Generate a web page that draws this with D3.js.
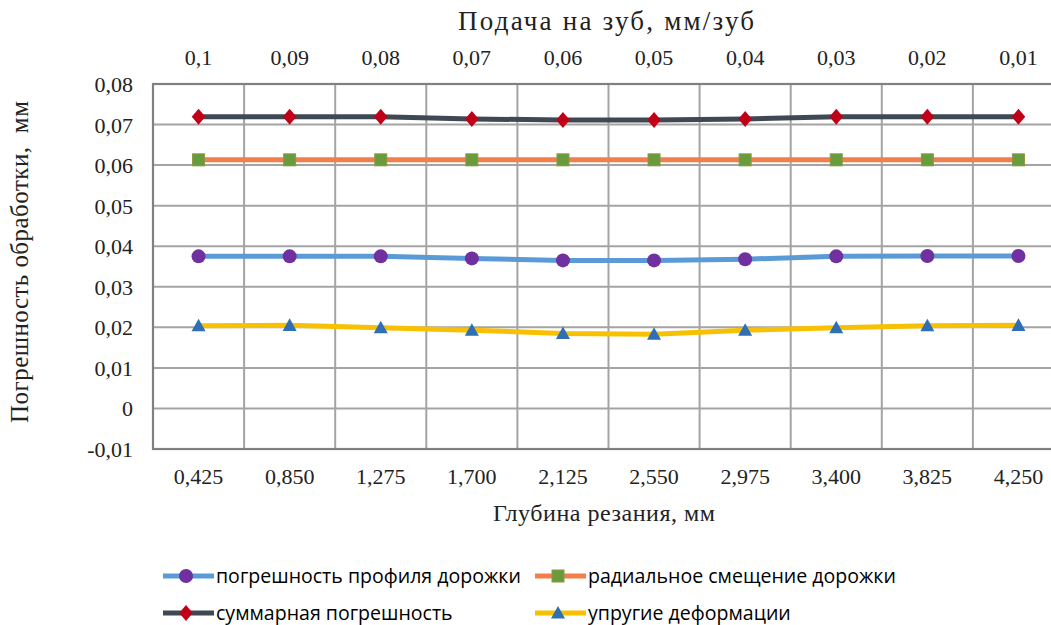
<!DOCTYPE html>
<html><head><meta charset="utf-8">
<script src="https://cdn.jsdelivr.net/npm/d3@7/dist/d3.min.js"></script>
<style>
html,body{margin:0;padding:0;background:#fff;}
svg{display:block;}
</style></head>
<body>
<svg id="c" width="1051" height="625"></svg>
<script>
const depthLabels = ["0,425","0,850","1,275","1,700","2,125","2,550","2,975","3,400","3,825","4,250"];
const feedLabels = ["0,1","0,09","0,08","0,07","0,06","0,05","0,04","0,03","0,02","0,01"];
const yTicks = [-0.01,0,0.01,0.02,0.03,0.04,0.05,0.06,0.07,0.08];
const yTickLabels = ["-0,01","0","0,01","0,02","0,03","0,04","0,05","0,06","0,07","0,08"];

const profileErr = [0.0375,0.0375,0.0375,0.037,0.0365,0.0365,0.0368,0.0375,0.0376,0.0376];
const radialShift = [0.0613,0.0613,0.0613,0.0613,0.0613,0.0613,0.0613,0.0613,0.0613,0.0613];
const totalErr = [0.0719,0.0719,0.0719,0.0714,0.0711,0.0711,0.0714,0.0719,0.0719,0.0719];
const elasticDef = [0.0204,0.0205,0.0199,0.0193,0.0185,0.0183,0.0193,0.0199,0.0204,0.0205];

const seriesNames = ["погрешность профиля дорожки","радиальное смещение дорожки","суммарная погрешность","упругие деформации"];

const svg = d3.select("#c");
const L = 153, R = 1064, T = 84, B = 449;

const x = d3.scaleBand().domain(depthLabels).range([L, R]).padding(0);
const y = d3.scaleLinear().domain([-0.01, 0.08]).range([B, T]);

const serif = "Liberation Serif, Times New Roman, serif";
const sans = "Open Sans, Noto Sans, Liberation Sans, sans-serif";

// grid
const grid = svg.append("g");
grid.selectAll("line.h").data(yTicks).enter().append("line")
  .attr("x1", L).attr("x2", R).attr("y1", d => y(d)).attr("y2", d => y(d))
  .attr("stroke", "#a4a4a4").attr("stroke-width", 2);
grid.selectAll("line.v").data(depthLabels.slice(1)).enter().append("line")
  .attr("x1", d => x(d)).attr("x2", d => x(d)).attr("y1", T).attr("y2", B)
  .attr("stroke", "#a4a4a4").attr("stroke-width", 2);
svg.append("rect").attr("x", L).attr("y", T).attr("width", R - L).attr("height", B - T)
  .attr("fill", "none").attr("stroke", "#808080").attr("stroke-width", 2.2);

// y axis labels
const yAxis = d3.axisLeft(y).tickValues(yTicks).tickSize(0).tickPadding(0)
  .tickFormat((d, i) => yTickLabels[i]);
const ya = svg.append("g").attr("transform", `translate(${L - 20},0)`).call(yAxis);
ya.select(".domain").remove();
ya.selectAll("text").attr("font-family", serif).attr("font-size", 22).attr("fill", "#222").attr("dy", "0.34em");

// bottom axis labels
const xAxis = d3.axisBottom(x).tickSize(0).tickPadding(0);
const xa = svg.append("g").attr("transform", `translate(0,${B + 19})`).call(xAxis);
xa.select(".domain").remove();
xa.selectAll("text").attr("font-family", serif).attr("font-size", 22).attr("fill", "#222").attr("dy", "0.71em");

// top axis labels
const xTop = d3.scaleBand().domain(feedLabels).range([L, R]).padding(0);
const ta = svg.append("g").attr("transform", `translate(0,${T - 19})`).call(d3.axisTop(xTop).tickSize(0).tickPadding(0));
ta.select(".domain").remove();
ta.selectAll("text").attr("font-family", serif).attr("font-size", 22).attr("fill", "#222").attr("dy", "0");

// titles
svg.append("text").attr("x", 606).attr("y", 30).attr("text-anchor", "middle")
  .attr("font-family", serif).attr("font-size", 27).attr("fill", "#222")
  .attr("textLength", 296).attr("lengthAdjust", "spacing").text("Подача на зуб, мм/зуб");
svg.append("text").attr("x", 604).attr("y", 521).attr("text-anchor", "middle")
  .attr("font-family", serif).attr("font-size", 24).attr("fill", "#222")
  .attr("textLength", 222).attr("lengthAdjust", "spacing").text("Глубина резания, мм");
svg.append("text").attr("transform", "translate(28,262) rotate(-90)").attr("text-anchor", "middle")
  .attr("font-family", serif).attr("font-size", 25).attr("fill", "#222").attr("xml:space","preserve")
  .attr("textLength", 322).attr("lengthAdjust", "spacing").text("Погрешность обработки,  мм");

const cx = d => x(d) + x.bandwidth() / 2;
const line = d3.line().x(d => cx(d[0])).y(d => y(d[1]));

const series = [
  {name: seriesNames[2], data: totalErr, line: "#3f4853", marker: "diamond", mfill: "#c00018", size: 16},
  {name: seriesNames[1], data: radialShift, line: "#f47e4a", marker: "square", mfill: "#6a9a3e", size: 12},
  {name: seriesNames[0], data: profileErr, line: "#5a9ad6", marker: "circle", mfill: "#7030a0", size: 14},
  {name: seriesNames[3], data: elasticDef, line: "#f7c000", marker: "triangle", mfill: "#2f6fb5", size: 14}
];

function drawMarker(g, type, fill, size) {
  if (type === "circle") {
    g.append("circle").attr("r", size / 2).attr("fill", fill);
  } else if (type === "square") {
    g.append("rect").attr("x", -size / 2).attr("y", -size / 2).attr("width", size).attr("height", size)
      .attr("fill", fill).attr("stroke", "#8a9a40").attr("stroke-width", 1);
  } else if (type === "diamond") {
    const s = size / 2;
    g.append("path").attr("d", `M0,${-s}L${s * 0.85},0L0,${s}L${-s * 0.85},0Z`).attr("fill", fill);
  } else if (type === "triangle") {
    const s = size / 2;
    g.append("path").attr("d", `M0,${-s}L${s},${s * 0.8}L${-s},${s * 0.8}Z`).attr("fill", fill);
  }
}

series.forEach(s => {
  const pts = depthLabels.map((c, i) => [c, s.data[i]]);
  svg.append("path").attr("d", line(pts)).attr("fill", "none")
    .attr("stroke", s.line).attr("stroke-width", 5).attr("stroke-linejoin", "round");
  pts.forEach(p => {
    const g = svg.append("g").attr("transform", `translate(${cx(p[0])},${y(p[1])})`);
    drawMarker(g, s.marker, s.mfill, s.size);
  });
});

// legend
const legendLayout = [
  {idx: 2, lx: 163, ly: 576},
  {idx: 1, lx: 535, ly: 576},
  {idx: 0, lx: 163, ly: 613},
  {idx: 3, lx: 535, ly: 613}
];
legendLayout.forEach(it => {
  const s = series[it.idx];
  const g = svg.append("g");
  g.append("line").attr("x1", it.lx).attr("x2", it.lx + 51).attr("y1", it.ly).attr("y2", it.ly)
    .attr("stroke", s.line).attr("stroke-width", 5);
  const mg = g.append("g").attr("transform", `translate(${it.lx + 23},${it.ly})`);
  drawMarker(mg, s.marker, s.mfill, s.size);
  g.append("text").attr("x", it.lx + 53).attr("y", it.ly).attr("dy", "0.36em")
    .attr("font-family", sans).attr("font-size", 19).attr("fill", "#000")
    .attr("class", "legtext").text(s.name);
});
const t0 = svg.selectAll(".legtext").filter((d, i) => i === 0);
const w0 = t0.node().getComputedTextLength();
svg.selectAll(".legtext").attr("font-size", 19 * 305 / w0);
</script>
</body></html>
